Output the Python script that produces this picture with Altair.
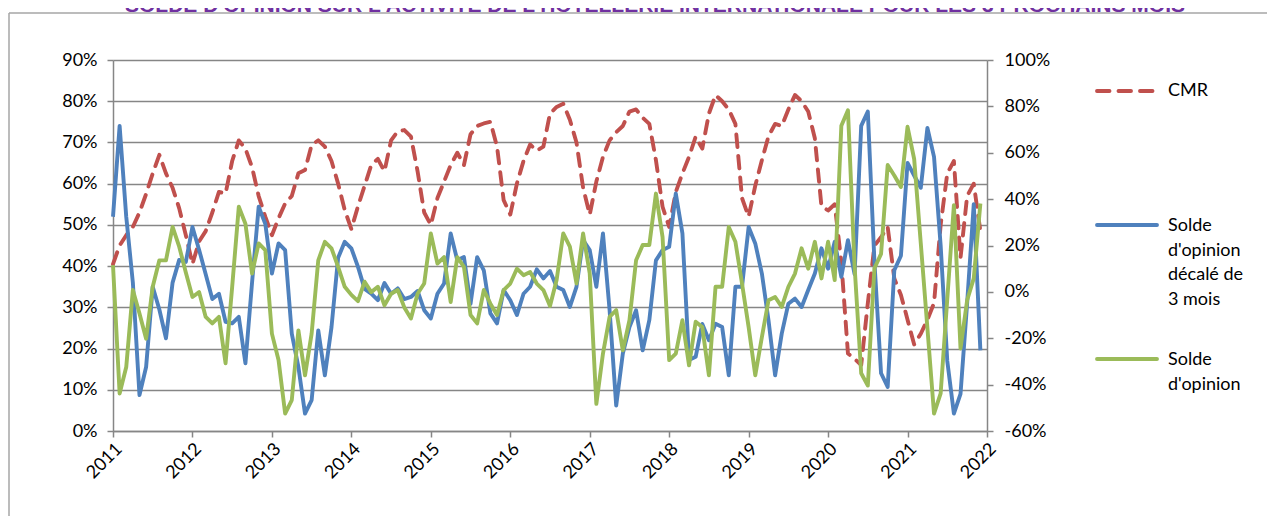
import altair as alt
import pandas as pd

# ---------------- data (monthly, Jan 2011 -> Dec 2021) ----------------
years = list(range(2011, 2023))

# CMR (left axis, %)
cmr = [
    40.5, 45, 47.5, 49.5, 53, 57.5, 62.5, 67, 62.5, 59, 54, 47.5,      # 2011
    40.5, 46, 48.5, 53, 58, 57.6, 65.5, 70.5, 68.5, 64, 57, 52,        # 2012
    47.5, 51.6, 55.2, 57, 62.5, 63.3, 69.4, 70.5, 69, 65.5, 60, 53.6,  # 2013
    49, 54.5, 59.5, 64.5, 66, 63, 70.5, 72.7, 73, 71.4, 63, 53,        # 2014
    50, 56.5, 60.5, 64.5, 67.5, 64.5, 72, 74, 74.6, 75, 69, 56,        # 2015
    52.5, 60, 65.5, 69.5, 68, 69, 77, 78.6, 79.4, 75.5, 70, 59,        # 2016
    52.5, 60.5, 66.5, 70.5, 72.5, 74, 77.5, 78, 76, 74.5, 65.7, 54.4,  # 2017
    49.5, 58, 62.5, 66.5, 71.4, 68.5, 77, 81.5, 80, 78, 74.5, 56.5,    # 2018
    52, 59.5, 65.7, 71.5, 74.5, 74, 78, 81.5, 80, 77.5, 71, 54.5,      # 2019
    53.5, 55, 41, 18.8, 17.5, 16, 31, 45, 47, 49.5, 37, 33,            # 2020
    27, 21, 23.6, 27, 31, 50, 62.5, 65.5, 42, 57, 60, 48.5,            # 2021
]

# Solde d'opinion décalé de 3 mois (right axis, %)
solde_decale = [
    32.4, 71.6, 32.4, 4.0, -44.5, -32.4, 2.2, -7.6, -20.0, 4.0, 13.8, 12.9,
    28.0, 18.2, 7.6, -3.1, -0.8, -12.9, -13.6, -10.8, -30.8, 4.0, 36.7, 29.4,
    7.9, 20.9, 18.0, -18.0, -32.4, -52.5, -46.7, -16.6, -36.0, -15.2, 14.7, 21.6,
    18.8, 10.8, 1.3, -0.8, -3.6, 3.8, -0.8, 1.5, -3.1, -2.2, 0.4, -7.9,
    -11.5, -0.8, 3.6, 25.2, 13.6, 15.0, -5.1, 15.0, 9.3, -9.3, -13.6, 0.8,
    -3.6, -10.0, -0.8, 2.2, 9.7, 5.8, 9.0, 2.2, 0.8, -6.5, 2.2, 22.3,
    18.0, 2.2, 25.2, -7.9, -49.0, -26.6, -15.2, -7.9, -25.2, -12.2, 13.6, 18.0,
    19.5, 42.4, 25.2, -29.4, -28.0, -13.8, -20.9, -13.8, -15.2, -36.0, 2.2, 2.2,
    28.0, 20.9, 7.9, -12.2, -36.0, -18.0, -5.1, -2.9, -6.5, 0.8, 7.9, 18.8,
    10.0, 21.6, 6.5, 22.3, 7.6, 71.6, 77.8, 12.9, -35.1, -41.0, 9.3, 15.6,
    55.6, 50.2, 44.9, 70.7, 58.2, 20.0, -29.8, -52.5, -44.0, -4.9, 37.8, -25.2,
]

# Solde d'opinion (right axis, %)
solde = [
    11.5, -43.8, -32.4, 0.8, -9.3, -20.2, 2.2, 13.6, 13.6, 28.0, 19.5, 8.4,
    -2.2, -0.1, -10.8, -13.6, -10.8, -30.8, 2.2, 36.7, 29.4, 7.9, 20.9, 18.0,
    -18.0, -29.4, -52.5, -46.7, -16.6, -36.0, -18.0, 13.6, 21.6, 18.8, 10.8, 2.2,
    -1.3, -4.0, 4.4, -0.1, 2.2, -5.8, -0.8, 0.8, -6.7, -11.5, -0.8, 3.6,
    25.2, 12.2, 15.0, -4.4, 15.0, 10.8, -10.0, -13.6, 0.8, -5.1, -10.0, 0.8,
    3.6, 10.0, 7.2, 8.6, 3.6, 0.8, -6.1, 5.1, 25.2, 19.5, 3.6, 25.2,
    7.9, -48.3, -26.6, -10.8, -7.9, -25.2, -12.2, 13.6, 20.2, 20.2, 42.4, 23.6,
    -29.4, -26.6, -12.2, -31.7, -12.9, -15.2, -36.0, 2.2, 2.2, 28.0, 21.6, 3.6,
    -15.2, -36.0, -19.5, -3.6, -2.2, -6.5, 2.2, 7.9, 18.8, 10.0, 21.6, 5.8,
    21.6, 5.1, 71.6, 78.3, 11.1, -35.1, -40.4, 10.2, 16.4, 54.7, 50.2, 45.2,
    71.2, 57.3, 20.9, -15.6, -52.5, -43.8, -3.1, 37.4, -24.4, -3.6, 5.8, 38.1,
]

left_ticks = list(range(0, 91, 10))
right_ticks = list(range(-60, 101, 20))

title_text = ("SOLDE D'OPINION SUR L'ACTIVITE DE L'HOTELLERIE "
              "INTERNATIONALE POUR LES 3 PROCHAINS MOIS")

# ---------------- frames ----------------
months = [2011 + i / 12 for i in range(len(cmr))]
df_cmr = pd.DataFrame({"t": months, "v": cmr})
df_blue = pd.DataFrame({"t": months, "v": solde_decale})
df_green = pd.DataFrame({"t": months, "v": solde})
one = pd.DataFrame({"k": [0]})

FONT = "Lato"
AX = "#868686"
RED = "#C0504D"
BLUE = "#4F81BD"
GREEN = "#9BBB59"
LW = 3.9
DASH = [12.5, 9]

xscale = alt.Scale(domain=[2011, 2022], nice=False, zero=False)
xaxis = alt.Axis(values=years, format="d", labelAngle=315, labelAlign="right",
                 labelBaseline="middle", tickSize=6, labelPadding=9, labelOffset=6,
                 grid=False, labelOverlap=False, labelFontSize=18, title=None)
X = alt.X("t:Q", scale=xscale, axis=xaxis)

cmr_line = alt.Chart(df_cmr).mark_line(
    color=RED, strokeWidth=LW, strokeDash=DASH, strokeCap="round", strokeJoin="round"
).encode(
    x=X,
    y=alt.Y("v:Q", scale=alt.Scale(domain=[0, 90], nice=False, zero=False),
            axis=alt.Axis(orient="left", values=left_ticks, labelExpr="datum.value + '%'",
                          grid=True, gridColor=AX, gridWidth=1.5, tickSize=6,
                          labelPadding=10, title=None)),
)

right_y = alt.Y("v:Q", scale=alt.Scale(domain=[-60, 100], nice=False, zero=False),
                axis=alt.Axis(orient="right", values=right_ticks, labelExpr="datum.value + '%'",
                              grid=False, tickSize=6, labelPadding=11, title=None))

blue_line = alt.Chart(df_blue).mark_line(color=BLUE, strokeWidth=LW, strokeJoin="round").encode(
    x=X, y=right_y)
green_line = alt.Chart(df_green).mark_line(color=GREEN, strokeWidth=LW, strokeJoin="round").encode(
    x=X, y=right_y)

soldes = alt.layer(blue_line, green_line)

# ---------------- decoration: frame, cut title, legend ----------------
frame_left = alt.Chart(one).mark_rule(color="#A6A6A6", strokeWidth=1.5).encode(
    x=alt.value(-104), y=alt.value(-47), y2=alt.value(520))
frame_top = alt.Chart(one).mark_rule(color="#A6A6A6", strokeWidth=1.5).encode(
    x=alt.value(-104), x2=alt.value(1160), y=alt.value(-47))
title = alt.Chart(one).mark_text(
    text=title_text, font="Liberation Sans", fontWeight="bold", fontSize=21,
    color="#7030A0", align="center", baseline="alphabetic"
).encode(x=alt.value(542), y=alt.value(-48))

def leg_line(y, color, dash=None):
    kw = dict(color=color, strokeWidth=LW, strokeCap="round")
    if dash:
        kw["strokeDash"] = dash
    return alt.Chart(one).mark_rule(**kw).encode(
        x=alt.value(984), x2=alt.value(1044), y=alt.value(y))

def leg_text(txt, y):
    return alt.Chart(one).mark_text(
        text=txt, font=FONT, fontSize=18, color="black", align="left", baseline="middle"
    ).encode(x=alt.value(1055), y=alt.value(y))

legend = [
    leg_line(31, RED, DASH), leg_text("CMR", 31),
    leg_line(165, BLUE), leg_text("Solde", 166), leg_text("d'opinion", 190.5),
    leg_text("décalé de", 215), leg_text("3 mois", 239.5),
    leg_line(299, GREEN), leg_text("Solde", 300), leg_text("d'opinion", 324.5),
]

chart = alt.layer(
    cmr_line, soldes, frame_left, frame_top, title, *legend
).resolve_scale(y="independent").properties(
    width=874, height=371,
    padding={"left": 105, "top": 52, "right": 280, "bottom": 85},
    autosize=alt.AutoSizeParams(type="none"),
).configure_view(stroke=None).configure_axis(
    labelFont=FONT, labelFontSize=18, labelColor="black",
    domainColor=AX, domainWidth=1.5, tickColor=AX, tickWidth=1.5,
)

chart.save("out.html", embed_options={"renderer": "svg", "actions": False})
